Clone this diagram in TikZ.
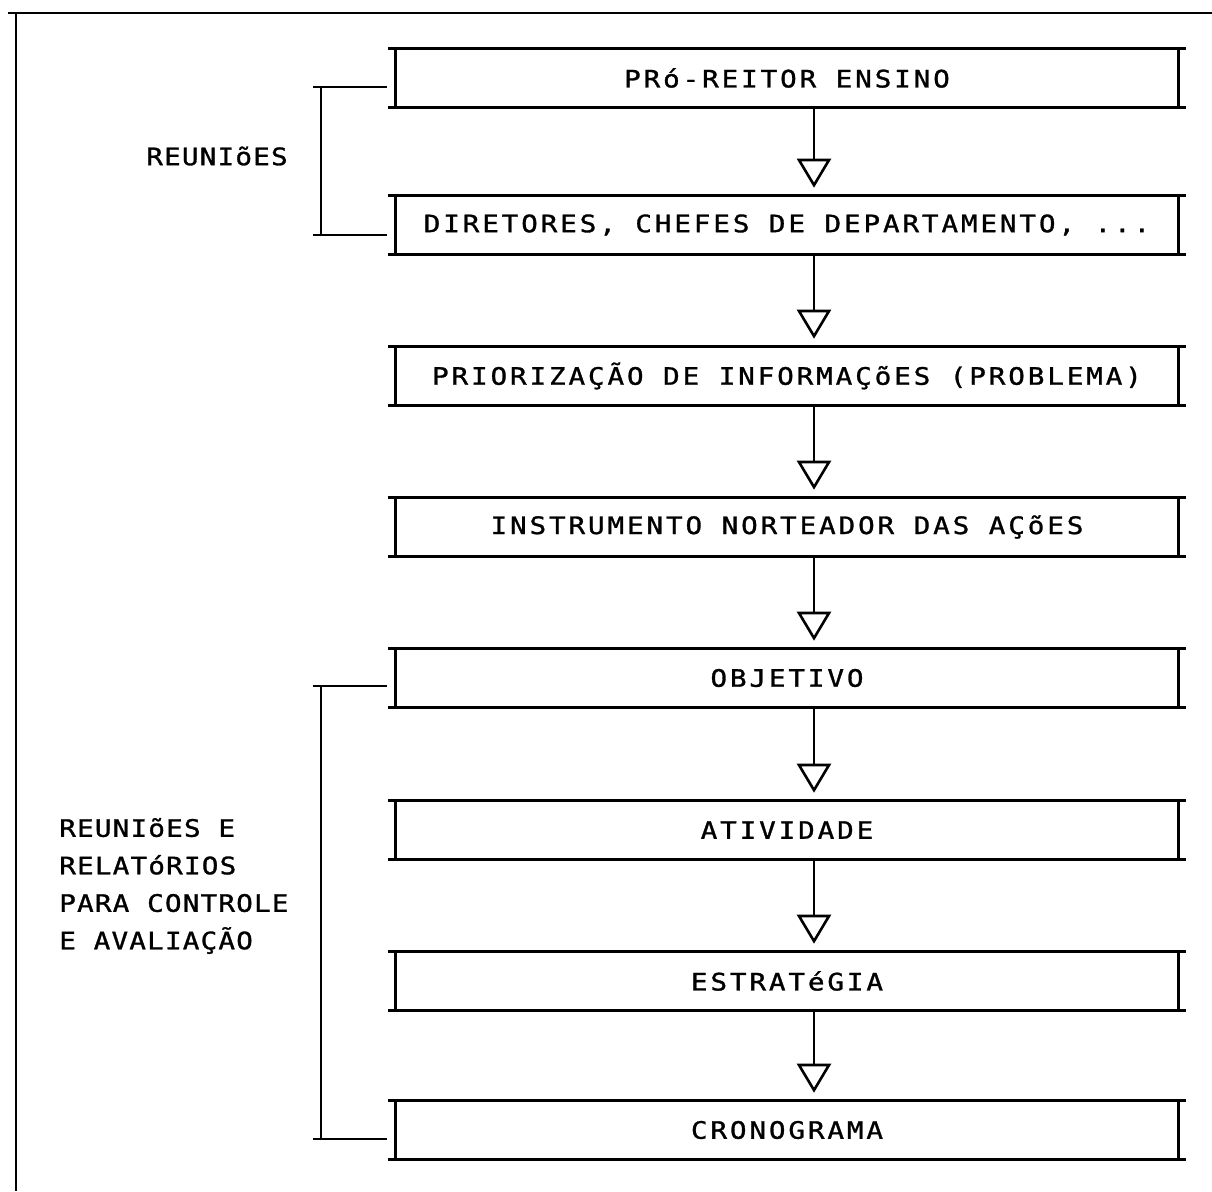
\documentclass[tikz,border=0pt]{standalone}
\usepackage{fontspec}
\usetikzlibrary{arrows.meta}
\newfontfamily\dotfont[FakeStretch=1.15,LetterSpace=12,FakeBold=1.2]{DejaVu Sans Mono}
\newfontfamily\notefont[FakeStretch=1.15,LetterSpace=5,FakeBold=1.2]{DejaVu Sans Mono}

\begin{document}
\begin{tikzpicture}[x=1pt, y=-1pt, line width=2.6pt,
  stage/.style={minimum width=780pt, minimum height=56pt, inner sep=0pt,
    font=\dotfont\fontsize{24}{28}\selectfont},
  flow/.style={-{Triangle[open,length=29pt,width=34pt]}},
  sidenote/.style={inner sep=0pt, align=left,
    font=\notefont\fontsize{24}{37.5}\selectfont}]
\useasboundingbox (0,0) rectangle (1212,1191);

% outer frame (top and left edges)
\draw (8,13) -- (1212,13);
\draw (16,13) -- (16,1191);

% stages of the flow
\node[stage] (b1) at (787,78)   {PRó-REITOR ENSINO};
\node[stage] (b2) at (787,225)  {DIRETORES, CHEFES DE DEPARTAMENTO, ...};
\node[stage] (b3) at (787,376)  {PRIORIZAÇÃO DE INFORMAÇõES (PROBLEMA)};
\node[stage] (b4) at (787,527)  {INSTRUMENTO NORTEADOR DAS AÇõES};
\node[stage] (b5) at (787,678)  {OBJETIVO};
\node[stage] (b6) at (787,830)  {ATIVIDADE};
\node[stage] (b7) at (787,981)  {ESTRATéGIA};
\node[stage] (b8) at (787,1130) {CRONOGRAMA};

% box outlines: horizontal rules overhang the vertical sides
\foreach \b in {b1,b2,b3,b4,b5,b6,b7,b8} {
  \draw ([xshift=-8pt]\b.north west) -- ([xshift=8pt]\b.north east);
  \draw ([xshift=-8pt]\b.south west) -- ([xshift=8pt]\b.south east);
  \draw (\b.north west) -- (\b.south west);
  \draw (\b.north east) -- (\b.south east);
}

% downward connectors with open triangle heads, stopping short of the next box
\foreach \a/\b in {b1/b2,b2/b3,b3/b4,b4/b5,b5/b6,b6/b7,b7/b8}
  \draw[flow] ([xshift=27pt]\a.south) -- ([xshift=27pt,yshift=8pt]\b.north);

% bracket for the first two stages
\coordinate (r1) at (387,87);
\coordinate (r2) at (387,235);
\draw (r1) -- (313,87) (321,87) -- (321,235) (313,235) -- (r2);
\node[sidenote] (n1) at (217,156) {REUNIõES};

% bracket for the last four stages
\coordinate (r3) at (387,686);
\coordinate (r4) at (387,1139);
\draw (r3) -- (313,686) (321,686) -- (321,1139) (313,1139) -- (r4);
\node[sidenote, anchor=west] (n2) at (58,886)
  {REUNIõES E\\RELATóRIOS\\PARA CONTROLE\\E AVALIAÇÃO};
\end{tikzpicture}
\end{document}
